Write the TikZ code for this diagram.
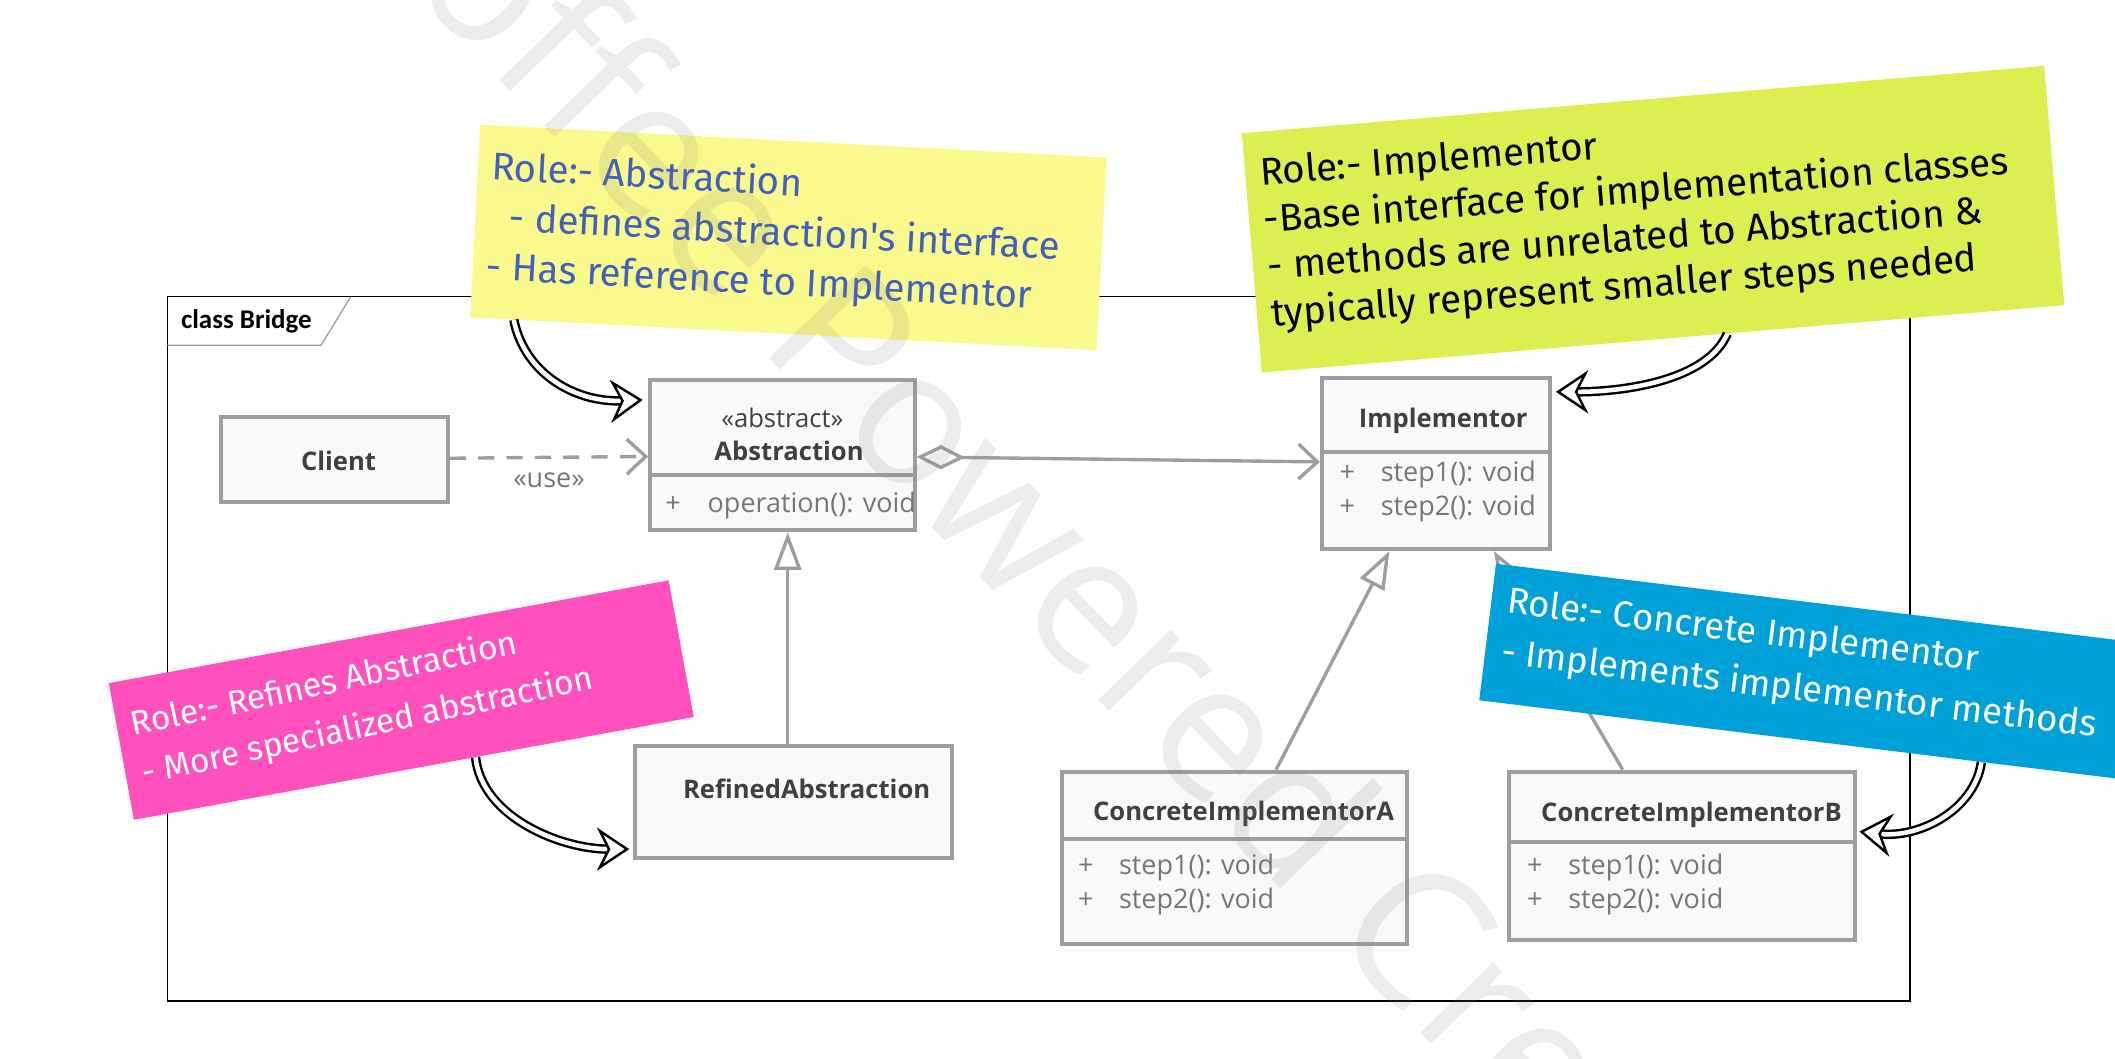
\documentclass[tikz,border=0pt]{standalone}
\usepackage{fontspec}
\usepackage{xcolor}
\usepackage{tikz}
\setmainfont{Open Sans}
\newfontfamily\handfont{Fira Sans}
\newfontfamily\framefont{Carlito}
\usetikzlibrary{shapes,positioning,calc,arrows.meta}

\definecolor{boxgray}{RGB}{158,158,162}
\definecolor{boxfill}{RGB}{249,249,249}
\definecolor{titlegray}{RGB}{64,64,64}
\definecolor{membergray}{RGB}{118,118,118}
\definecolor{noteyellow}{RGB}{250,250,140}
\definecolor{notegreen}{RGB}{220,238,80}
\definecolor{notepink}{RGB}{255,80,190}
\definecolor{noteblue}{RGB}{0,160,216}
\definecolor{penblue}{RGB}{64,96,192}

\tikzset{
  umlbox/.style={draw=boxgray, fill=boxfill, line width=3pt, inner sep=0pt},
  title/.style={font=\fontsize{19}{23}\selectfont\bfseries, text=titlegray, inner sep=0pt},
  member/.style={font=\fontsize{20}{25}\selectfont, text=membergray, align=left, inner sep=0pt, anchor=west},
  divider/.style={draw=boxgray, line width=3pt},
  link/.style={draw=boxgray, line width=2.5pt},
  dep/.style={link, dashed, dash pattern=on 12pt off 9pt, -{Straight Barb[length=14pt, width=26pt]}},
  aggr/.style={link, {Diamond[open, fill=white, length=36pt, width=18pt]}-{Straight Barb[length=14pt, width=26pt]}},
  gen/.style={link, -{Triangle[open, fill=white, length=28pt, width=20pt]}},
  note/.style={inner sep=0pt},
  handtext/.style={align=left, inner sep=0pt, anchor=north west},
  notearrow/.style={draw=black, line width=1.8pt, double=white, double distance=3.4pt,
    -{Stealth[open, fill=white, length=24pt, width=32pt, inset=8pt]}}
}

\begin{document}
\begin{tikzpicture}[x=1pt, y=-1pt]
    \useasboundingbox (0,0) rectangle (1568,785);
    \clip (0,0) rectangle (1568,785);

    % Frame
    \draw[black, line width=1pt] (124,220) rectangle (1416,742);
    \draw[boxgray, line width=1pt] (124,256) -- (238,256) -- (260,220);
    \node[font=\framefont\fontsize{20}{24}\selectfont\bfseries, anchor=west, inner sep=0pt] (frameLbl) at (134,238) {class Bridge};

    % Classes
    \node[umlbox, minimum width=168pt, minimum height=63pt] (client) at (248,340.5) {};
    \node[title] (clientT) at (251,342) {Client};

    \node[umlbox, minimum width=196pt, minimum height=111pt] (abstr) at (580,337.5) {};
    \node[font=\fontsize{19}{23}\selectfont, text=titlegray, inner sep=0pt] (abstrS) at (580,310) {«abstract»};
    \node[title] (abstrT) at (585,334) {Abstraction};
    \draw[divider] (abstr.west |- 0,352) -- (abstr.east |- 0,352);
    \begin{scope}
        \clip ($(abstr.north west)+(1.5,1.5)$) rectangle ($(abstr.south east)+(-1.5,-1.5)$);
        \node[member] (abstrM) at (493,375) {+\hspace{20pt}operation(): void};
    \end{scope}

    \node[umlbox, minimum width=169pt, minimum height=127pt] (impl) at (1064.5,343.5) {};
    \node[title] (implT) at (1070,312) {Implementor};
    \draw[divider] (impl.west |- 0,335) -- (impl.east |- 0,335);
    \node[member] (implM) at (993,364.5) {+\hspace{19pt}step1(): void\\+\hspace{19pt}step2(): void};

    \node[umlbox, minimum width=235pt, minimum height=83pt] (refined) at (588.5,594.5) {};
    \node[title] (refinedT) at (598,585) {RefinedAbstraction};

    \node[umlbox, minimum width=256pt, minimum height=128pt] (concA) at (915,636) {};
    \node[title] (concAT) at (922,603) {ConcreteImplementorA};
    \draw[divider] (concA.west |- 0,622) -- (concA.east |- 0,622);
    \node[member] (concAM) at (799,655.5) {+\hspace{19pt}step1(): void\\+\hspace{19pt}step2(): void};

    \node[umlbox, minimum width=256pt, minimum height=125pt] (concB) at (1247,634.5) {};
    \node[title] (concBT) at (1254,604) {ConcreteImplementorB};
    \draw[divider] (concB.west |- 0,624) -- (concB.east |- 0,624);
    \node[member] (concBM) at (1132,655.5) {+\hspace{19pt}step1(): void\\+\hspace{19pt}step2(): void};

    % Relations
    \draw[dep] (client) -- node[below=10pt, font=\fontsize{20}{23}\selectfont, text=membergray, inner sep=0pt] (useLbl) {«use»} (abstr);
    \draw[aggr] (abstr) -- (impl);
    \draw[gen] (refined.north -| 584,0) -- (abstr.south -| 584,0);
    \draw[gen] ($(concA.north west)!0.62!(concA.north east)$) -- ($(impl.south west)!0.3!(impl.south east)$);
    \draw[gen] ($(concB.north west)!0.33!(concB.north east)$) -- ($(impl.south west)!0.75!(impl.south east)$);

    % Notes
    \node[note, fill=noteyellow, minimum width=465pt, minimum height=143pt, rotate=-3] (noteAbs) at (584.5,176) {};
    \node[handtext, text=penblue, rotate=-3, font=\handfont\fontsize{28.5}{37}\selectfont] (noteAbsT) at (365,111)
        {Role:- Abstraction\\\ \ - defines abstraction's interface\\- Has reference to Implementor};

    \node[note, fill=notegreen, minimum width=597pt, minimum height=178pt, rotate=4.8] (noteImp) at (1225.5,162.5) {};
    \node[handtext, text=black, rotate=4.5, font=\handfont\fontsize{28.5}{35}\selectfont] (noteImpT) at (933,116)
        {Role:- Implementor\\-Base interface for implementation classes\\- methods are unrelated to Abstraction \&\\typically represent smaller steps needed};

    \node[note, fill=notepink, minimum width=422pt, minimum height=103pt, rotate=10.4] (noteRef) at (297.5,519) {};
    \node[handtext, text=white, rotate=12, font=\handfont\fontsize{25}{37}\selectfont] (noteRefT) at (95,526)
        {Role:- Refines Abstraction\\- More specialized abstraction};

    \node[note, fill=noteblue, minimum width=500pt, minimum height=102pt, rotate=-7] (noteCon) at (1351,499) {};
    \node[handtext, text=white, rotate=-7, font=\handfont\fontsize{27}{38}\selectfont] (noteConT) at (1119,434)
        {Role:- Concrete Implementor\\- Implements implementor methods};

    % Note arrows
    \draw[notearrow] ($(noteAbs.south west)!0.07!(noteAbs.south east)$) .. controls +(8,40) and +(-50,2) .. ($(abstr.north west)+(-4,16)$);
    \draw[notearrow] ($(noteImp.south west)!0.58!(noteImp.south east)$) .. controls +(-15,35) and +(50,0) .. ($(impl.north east)+(3,12)$);
    \draw[notearrow] ($(noteRef.south west)!0.61!(noteRef.south east)$) .. controls +(5,45) and +(-50,0) .. ($(refined.south west)+(-3,-8)$);
    \draw[notearrow] ($(noteCon.south west)!0.75!(noteCon.south east)$) .. controls +(-5,35) and +(45,5) .. ($(concB.north east)+(2,46)$);

    % Watermark
    \node[font=\fontsize{140}{140}\selectfont, text=gray, text opacity=0.15, rotate=-46, anchor=base west, inner sep=0pt] (wmark) at (240,-76) {Coffee Powered Cre};
\end{tikzpicture}
\end{document}
